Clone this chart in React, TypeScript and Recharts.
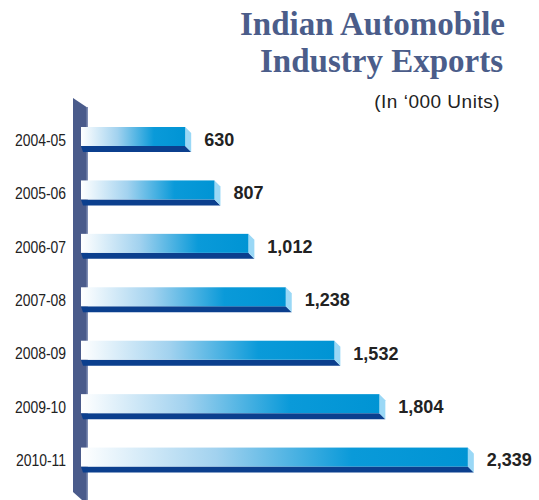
import { BarChart, Bar, XAxis, YAxis, LabelList } from "recharts";

const years = ["2004-05", "2005-06", "2006-07", "2007-08", "2008-09", "2009-10", "2010-11"];
const exportsK = [630, 807, 1012, 1238, 1532, 1804, 2339];

const data = years.map((year, i) => ({ year, exports: exportsK[i] }));

const DEPTH = 6;

function Bar3D(props: any) {
  const { x, y, width, height } = props;
  const face = height - DEPTH;
  return (
    <g>
      <polygon
        points={`${x},${y + face} ${x + width},${y + face} ${x + width + DEPTH},${y + height} ${x + 2},${y + height}`}
        fill="#0b3f8e"
      />
      <polygon
        points={`${x + width},${y} ${x + width + DEPTH},${y + DEPTH} ${x + width + DEPTH},${y + height} ${x + width},${y + face}`}
        fill="#9ad8f6"
      />
      <rect x={x} y={y} width={width} height={face} fill="url(#barGrad)" />
    </g>
  );
}

// condensed-looking year labels
function YearTick(props: any) {
  const { y, payload } = props;
  return (
    <text
      transform={`translate(66,${y}) scale(0.87,1)`}
      dy={6}
      textAnchor="end"
      fontFamily="'Liberation Sans', Arial, sans-serif"
      fontSize={16}
      fill="#222"
    >
      {payload.value}
    </text>
  );
}

export default function App() {
  return (
    <div style={{ position: "absolute", left: 0, top: 0, width: 539, height: 500, background: "#fff" }}>
      <svg width={539} height={500} style={{ position: "absolute", left: 0, top: 0 }}>
        <text
          x={505}
          y={35}
          textAnchor="end"
          fontFamily="'Liberation Serif', 'Times New Roman', serif"
          fontWeight={700}
          fontSize={33}
          fill="#4b5d8a"
        >
          Indian Automobile
        </text>
        <text
          x={503}
          y={72}
          textAnchor="end"
          fontFamily="'Liberation Serif', 'Times New Roman', serif"
          fontWeight={700}
          fontSize={33}
          fill="#4b5d8a"
        >
          Industry Exports
        </text>
        <text
          x={500}
          y={108}
          textAnchor="end"
          fontFamily="'Liberation Sans', Arial, sans-serif"
          fontSize={19}
          letterSpacing={0.5}
          fill="#222"
        >
          (In ‘000 Units)
        </text>
        {/* slanted column behind the bars */}
        <polygon points="73,98 88,108 88,500 82,500 73,492" fill="#4a5b8b" />
        <rect x={86.5} y={107} width={1.5} height={393} fill="#7f8db3" />
      </svg>
      <div style={{ position: "absolute", left: 0, top: 0 }}>
        <BarChart
          width={539}
          height={500}
          data={data}
          layout="vertical"
          margin={{ top: 113, right: 28, left: 0, bottom: 13 }}
          barCategoryGap={0}
        >
          <defs>
            <linearGradient id="barGrad" x1="0" y1="0" x2="1" y2="0">
              <stop offset="0" stopColor="#ffffff" />
              <stop offset="0.35" stopColor="#a2d2ef" />
              <stop offset="0.7" stopColor="#0a9ad9" />
              <stop offset="1" stopColor="#0094d4" />
            </linearGradient>
          </defs>
          <XAxis type="number" domain={[0, 2600]} hide />
          <YAxis
            type="category"
            dataKey="year"
            width={81}
            axisLine={false}
            tickLine={false}
            tick={<YearTick />}
          />
          <Bar dataKey="exports" barSize={25} shape={<Bar3D />} isAnimationActive={false}>
            <LabelList
              dataKey="exports"
              position="right"
              offset={19}
              formatter={(v: any) => Number(v).toLocaleString("en-US")}
              style={{
                fontFamily: "'Liberation Sans', Arial, sans-serif",
                fontWeight: 700,
                fontSize: 18,
                fill: "#222",
              }}
            />
          </Bar>
        </BarChart>
      </div>
    </div>
  );
}
